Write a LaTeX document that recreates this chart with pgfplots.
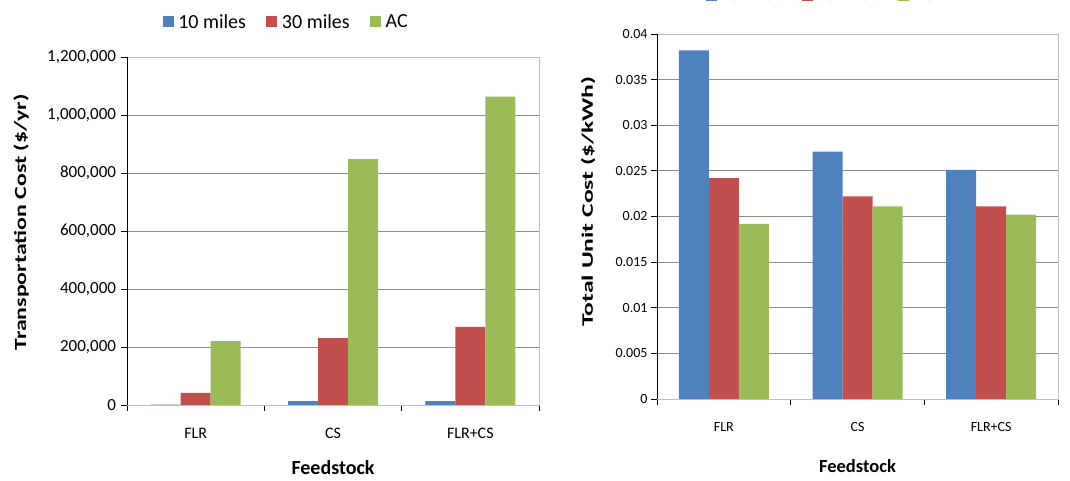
\documentclass[border=0pt]{standalone}
\usepackage{pgfplots}
\pgfplotsset{compat=1.18}
\usepackage{fontspec}
\setmainfont{Carlito}
\usepackage{graphicx}
\definecolor{cblue}{HTML}{4F81BD}
\definecolor{cred}{HTML}{C0504D}
\definecolor{cgreen}{HTML}{9BBB59}
\definecolor{gridc}{HTML}{8C8C8C}
\definecolor{boxc}{HTML}{BFBFBF}
\pgfplotsset{
  mybar/.style={
    ybar=0pt, bar width=30pt, scale only axis,
    xmin=-0.5, xmax=2.5, xtick={0,1,2}, xticklabels={FLR,CS,FLR+CS},
    minor xtick={-0.5,0.5,1.5,2.5},
    major x tick style={draw=none},
    tick pos=left, tick align=outside,
    major tick length=6pt, minor tick length=6pt,
    tick style={black, line width=0.8pt},
    axis line style={boxc, line width=0.8pt},
    ymajorgrids, major grid style={gridc, line width=0.8pt},
    scaled y ticks=false,
    /pgf/number format/assume math mode=true,
    legend image code/.code={\fill[##1] (0pt,-5.5pt) rectangle (11pt,5.5pt);},
    legend style={draw=none, fill=none, legend columns=3, anchor=center,
      nodes={inner sep=1.5pt},
      /tikz/every odd column/.append style={column sep=3pt},
      /tikz/every even column/.append style={column sep=19pt}},
  }
}
\begin{document}
\begin{tikzpicture}
\path[use as bounding box] (0,0) rectangle (1070pt,481pt);
\begin{axis}[mybar,
  at={(127pt,76pt)}, anchor=south west, width=412pt, height=348pt,
  ymin=0, ymax=1200000, ytick={0,200000,400000,600000,800000,1000000,1200000},
  yticklabels={0,{200,000},{400,000},{600,000},{800,000},{1,000,000},{1,200,000}},
  tick label style={font=\fontsize{16}{18}\selectfont},
  yticklabel style={font=\fontsize{17}{19}\selectfont, xshift=-1.5pt},
  xticklabel style={yshift=-14pt},
  xlabel={Feedstock},
  xlabel style={font=\fontsize{20}{22}\selectfont\bfseries, at={(axis description cs:0.5,0)}, anchor=center, yshift=-63pt},
  ylabel={\scalebox{1.4}[1]{Transportation Cost (\$/yr)}},
  ylabel style={font=\fontsize{17}{20}\selectfont\bfseries, at={(axis description cs:-0.257,0.525)}, anchor=center},
  legend style={at={(0.386,1.101)}, font=\fontsize{20}{22}\selectfont},
]
\addplot[fill=cblue, draw=none] coordinates {(0,1500) (1,13000) (2,13000)};
\addplot[fill=cred, draw=none] coordinates {(0,42000) (1,231000) (2,269000)};
\addplot[fill=cgreen, draw=none] coordinates {(0,220000) (1,848000) (2,1063000)};
\legend{10 miles, 30 miles, AC}
\draw[black, line width=0.9pt] (rel axis cs:0,1) -- (rel axis cs:0,0) -- (rel axis cs:1,0);
\end{axis}
\begin{axis}[mybar,
  at={(657pt,82pt)}, anchor=south west, width=401pt, height=365pt,
  ymin=0, ymax=0.04, ytick={0,0.005,0.01,0.015,0.02,0.025,0.03,0.035,0.04},
  yticklabels={0,0.005,0.01,0.015,0.02,0.025,0.03,0.035,0.04},
  tick label style={font=\fontsize{14}{16}\selectfont},
  xticklabel style={yshift=-14pt},
  xlabel={Feedstock},
  xlabel style={font=\fontsize{18.5}{21}\selectfont\bfseries, at={(axis description cs:0.5,0)}, anchor=center, yshift=-67pt},
  ylabel={\scalebox{1.6}[1]{Total Unit Cost (\$/kWh)}},
  ylabel style={font=\fontsize{16}{19}\selectfont\bfseries, at={(axis description cs:-0.172,0.541)}, anchor=center},
  legend style={at={(0.407,1.106)}, font=\fontsize{17.7}{20}\selectfont},
]
\addplot[fill=cblue, draw=none] coordinates {(0,0.0382) (1,0.0271) (2,0.0251)};
\addplot[fill=cred, draw=none] coordinates {(0,0.0242) (1,0.0222) (2,0.0211)};
\addplot[fill=cgreen, draw=none] coordinates {(0,0.0192) (1,0.0211) (2,0.0202)};
\legend{10 miles, 30 miles, AC}
\draw[black, line width=0.9pt] (rel axis cs:0,1) -- (rel axis cs:0,0) -- (rel axis cs:1,0);
\end{axis}
\end{tikzpicture}
\end{document}
